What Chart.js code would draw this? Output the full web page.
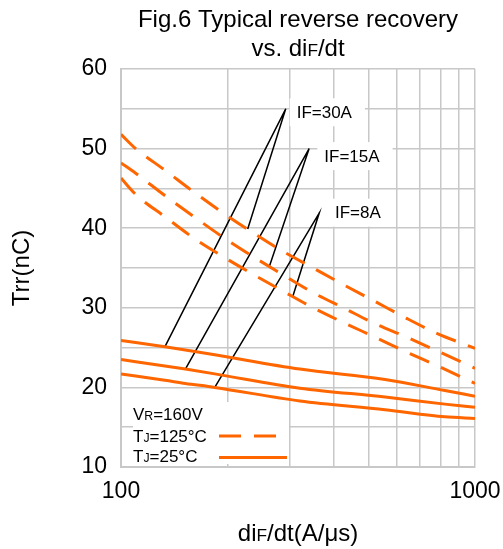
<!DOCTYPE html>
<html>
<head>
<meta charset="utf-8">
<script src="https://cdn.jsdelivr.net/npm/chart.js@4.4.0/dist/chart.umd.min.js"></script>
<style>
  html, body { margin: 0; padding: 0; background: #fff; }
  #wrap { width: 503px; height: 549px; }
</style>
</head>
<body>
<div id="wrap"><canvas id="c" width="503" height="549"></canvas></div>
<script>
// ---- data ----
const dashX = [100, 110, 133, 160, 193, 231, 284, 349, 425, 522, 639, 780, 1000];
const tj125_30A = [51.8, 50.0, 47.3, 44.6, 42.0, 39.7, 37.2, 35.0, 32.9, 30.8, 28.7, 26.8, 24.9];
const tj125_15A = [48.2, 46.9, 44.1, 41.5, 38.95, 36.7, 34.25, 31.9, 30.0, 28.0, 26.35, 24.6, 22.4];
const tj125_8A  = [46.3, 44.25, 41.45, 38.8, 36.5, 34.45, 32.2, 30.0, 28.15, 26.3, 24.45, 22.75, 20.5];

const solidX = [100, 133, 152, 184, 320, 557, 822, 1000];
const tj25_30A = [25.9, 25.1, 24.7, 24.1, 22.3, 21.0, 19.6, 18.9];
const tj25_15A = [23.5, 22.7, 22.3, 21.7, 19.9, 18.8, 17.9, 17.5];
const tj25_8A  = [21.7, 20.9, 20.5, 20.0, 18.3, 17.2, 16.3, 16.1];

// callout leader lines: dashed-curve end, apex, solid-curve end
const callout30X = [228, 292, 133];
const callout30Y = [39.9, 55.0, 25.1];
const callout15X = [262, 340, 152];
const callout15Y = [35.1, 50.0, 22.3];
const callout8X  = [305, 363, 184];
const callout8Y  = [31.3, 41.9, 20.0];

const calloutText = ['IF=30A', 'IF=15A', 'IF=8A'];
const calloutLabelX = [313.5, 375.3, 402.3];
const calloutLabelY = [54.44, 48.93, 41.82];

const xTicks = [100, 200, 300, 400, 500, 600, 700, 800, 900, 1000];
const xTickLabels = ['100', '1000'];
const yTickLabels = [10, 20, 30, 40, 50, 60];

// ---- styles ----
const ORANGE = '#ff6600';
const GRID = '#c8c8c8';
const FONT = 'Arial, "Liberation Sans", sans-serif';

function pts(xs, ys) { return xs.map((x, i) => ({ x: x, y: ys[i] })); }

function curve(xs, ys, dashed) {
  return {
    data: pts(xs, ys),
    borderColor: ORANGE,
    borderWidth: 3,
    borderDash: dashed ? [21, 13] : [],
    borderCapStyle: 'butt',
    pointRadius: 0,
    fill: false,
    cubicInterpolationMode: 'monotone'
  };
}
function leader(xs, ys) {
  return {
    data: pts(xs, ys),
    borderColor: '#000',
    borderWidth: 1.5,
    pointRadius: 0,
    fill: false,
    tension: 0
  };
}

function richWidth(ctx, parts, size) {
  let w = 0;
  parts.forEach(p => { ctx.font = (size * p[1]) + 'px ' + FONT; w += ctx.measureText(p[0]).width; });
  return w;
}
function drawRich(ctx, parts, x, y, size, align) {
  const w = richWidth(ctx, parts, size);
  let cx = align === 'center' ? x - w / 2 : x;
  ctx.textBaseline = 'alphabetic';
  ctx.textAlign = 'left';
  parts.forEach(p => {
    ctx.font = (size * p[1]) + 'px ' + FONT;
    ctx.fillText(p[0], cx, y);
    cx += ctx.measureText(p[0]).width;
  });
}

const boxesPlugin = {
  id: 'boxes',
  beforeDatasetsDraw(chart) {
    const ctx = chart.ctx, xs = chart.scales.x, ys = chart.scales.y, a = chart.chartArea;
    ctx.save();
    ctx.fillStyle = '#fff';
    ctx.fillRect(a.left + 12, a.bottom - 65, 156, 62);
    ctx.font = '17px ' + FONT;
    calloutText.forEach((t, i) => {
      const px = xs.getPixelForValue(calloutLabelX[i]);
      const py = ys.getPixelForValue(calloutLabelY[i]);
      const w = ctx.measureText(t).width;
      ctx.fillRect(px - 7, py - 15, w + 20, 28);
    });
    ctx.restore();
  },
  afterDraw(chart) {
    const ctx = chart.ctx, xs = chart.scales.x, ys = chart.scales.y, a = chart.chartArea;
    ctx.save();
    ctx.fillStyle = '#000';
    drawRich(ctx, [['Fig.6 Typical reverse recovery', 1]], (a.left + a.right) / 2, 27, 24, 'center');
    drawRich(ctx, [['vs. di', 1], ['F', 0.72], ['/dt', 1]], (a.left + a.right) / 2, 56, 24, 'center');
    drawRich(ctx, [['di', 1], ['F', 0.72], ['/dt(A/\u03bcs)', 1]], (a.left + a.right) / 2, 541, 24, 'center');
    ctx.save();
    ctx.translate(29, (a.top + a.bottom) / 2);
    ctx.rotate(-Math.PI / 2);
    drawRich(ctx, [['Trr(nC)', 1]], 0, 0, 24, 'center');
    ctx.restore();
    calloutText.forEach((t, i) => {
      const px = xs.getPixelForValue(calloutLabelX[i]);
      const py = ys.getPixelForValue(calloutLabelY[i]);
      ctx.font = '17px ' + FONT;
      ctx.textAlign = 'left';
      ctx.textBaseline = 'middle';
      ctx.fillText(t, px, py);
    });
    const lx = a.left + 12;
    drawRich(ctx, [['V', 1], ['R', 0.72], ['=160V', 1]], lx, a.bottom - 47, 17, 'left');
    drawRich(ctx, [['T', 1], ['J', 0.72], ['=125\u00b0C', 1]], lx, a.bottom - 25, 17, 'left');
    drawRich(ctx, [['T', 1], ['J', 0.72], ['=25\u00b0C', 1]], lx, a.bottom - 5, 17, 'left');
    ctx.strokeStyle = ORANGE;
    ctx.lineWidth = 3;
    ctx.lineCap = 'butt';
    ctx.setLineDash([22, 13]);
    ctx.beginPath();
    ctx.moveTo(a.left + 98, a.bottom - 31);
    ctx.lineTo(a.left + 156, a.bottom - 31);
    ctx.stroke();
    ctx.setLineDash([]);
    ctx.beginPath();
    ctx.moveTo(a.left + 98, a.bottom - 9.5);
    ctx.lineTo(a.left + 166, a.bottom - 9.5);
    ctx.stroke();
    ctx.restore();
  }
};

new Chart(document.getElementById('c'), {
  type: 'line',
  data: {
    datasets: [
      curve(dashX, tj125_30A, true),
      curve(dashX, tj125_15A, true),
      curve(dashX, tj125_8A, true),
      curve(solidX, tj25_30A, false),
      curve(solidX, tj25_15A, false),
      curve(solidX, tj25_8A, false),
      leader(callout30X, callout30Y),
      leader(callout15X, callout15Y),
      leader(callout8X, callout8Y)
    ]
  },
  options: {
    responsive: false,
    animation: false,
    devicePixelRatio: 1,
    layout: { padding: { top: 69, right: 28, left: 0, bottom: -2 } },
    plugins: { legend: { display: false }, tooltip: { enabled: false }, title: { display: false } },
    scales: {
      x: {
        type: 'logarithmic',
        min: 100,
        max: 1000,
        afterBuildTicks(scale) { scale.ticks = xTicks.map(v => ({ value: v })); },
        afterFit(scale) { scale.height = 84; scale.paddingLeft = 0; scale.paddingRight = 0; },
        ticks: {
          autoSkip: false,
          maxRotation: 0,
          padding: 11,
          color: '#000',
          font: { size: 23, family: FONT },
          callback(v) { return xTickLabels.includes(String(v)) ? String(v) : ''; }
        },
        grid: { color: GRID, lineWidth: 1.5, drawTicks: false },
        border: { color: GRID, width: 2 }
      },
      y: {
        min: 10,
        max: 60,
        afterFit(scale) { scale.width = 121; scale.paddingTop = 0; scale.paddingBottom = 0; },
        ticks: {
          stepSize: 5,
          padding: 14,
          color: '#000',
          font: { size: 23, family: FONT },
          callback(v) { return yTickLabels.includes(v) ? String(v) : ''; }
        },
        grid: { color: GRID, lineWidth: 1.5, drawTicks: false },
        border: { color: GRID, width: 2 }
      }
    }
  },
  plugins: [boxesPlugin]
});
</script>
</body>
</html>
